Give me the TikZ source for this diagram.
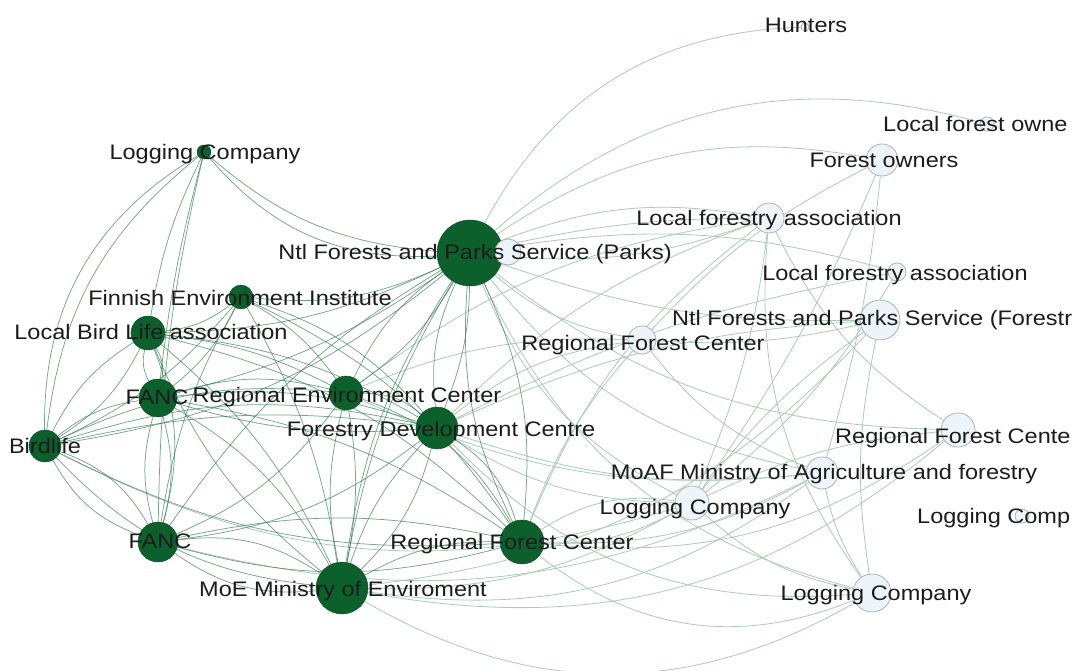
\documentclass[tikz,border=0pt]{standalone}
\usepackage{fontspec}
\setmainfont[FakeStretch=1.12]{Liberation Sans}
\usetikzlibrary{backgrounds}
\definecolor{gnode}{RGB}{12,96,44}
\definecolor{gedge}{RGB}{60,128,88}
\definecolor{ledge}{RGB}{172,202,186}
\definecolor{lnode}{RGB}{238,245,250}
\definecolor{lborder}{RGB}{170,180,182}
\definecolor{txt}{RGB}{28,28,28}
\begin{document}
\begin{tikzpicture}[x=1pt,y=-1pt,
  gn/.style={circle,fill=gnode,draw=gnode!80!black,line width=0.4pt,inner sep=0pt,minimum size=#1},
  ln/.style={circle,fill=lnode,draw=lborder,line width=0.8pt,inner sep=0pt,minimum size=#1},
  ge/.style={draw=gedge,line width=0.75pt,opacity=0.7},
  le/.style={draw=ledge,line width=0.8pt},
  lab/.style={text=txt,inner sep=0pt,font=\fontsize{21}{21}\selectfont,text height=15pt,text depth=0pt}]
\clip (0,0) rectangle (1077,671);
% green nodes
\node[gn=14pt] (lc)  at (204,152) {};
\node[gn=66pt] (pk)  at (470,253) {};
\node[gn=24pt] (fei) at (241,297) {};
\node[gn=34pt] (lbl) at (148,333) {};
\node[gn=38pt] (fa1) at (158,398) {};
\node[gn=34pt] (rec) at (346,393) {};
\node[gn=42pt] (fdc) at (437,428) {};
\node[gn=32pt] (bl)  at (45,446) {};
\node[gn=40pt] (fa2) at (158,542) {};
\node[gn=44pt] (rfg) at (522,542) {};
\node[gn=52pt] (moe) at (342,588) {};
% light nodes
\node[ln=8pt]  (hu)   at (805,27) {};
\node[ln=14pt] (lfo)  at (987,124) {};
\node[ln=32pt] (fo)   at (882,160) {};
\node[ln=30pt] (lfa1) at (769,218) {};
\node[ln=26pt] (pk2)  at (508,252) {};
\node[ln=18pt] (lfa2) at (897,272) {};
\node[ln=40pt] (nfp)  at (880,320) {};
\node[ln=28pt] (rfl)  at (642,340) {};
\node[ln=34pt] (rfr)  at (958,430) {};
\node[ln=32pt] (moaf) at (822,473) {};
\node[ln=34pt] (lcm)  at (692,503) {};
\node[ln=14pt] (lcr)  at (1022,516) {};
\node[ln=38pt] (lcb)  at (872,593) {};
% edges behind nodes
\begin{pgfonlayer}{background}
\fill[white] (0,0) rectangle (1077,671);
% light edges
\foreach \a/\b/\c in {pk/hu/30, pk/lfo/28, pk/fo/22, pk/lfa1/15, pk/lfa1/-12, pk/lfa1/6, pk/lfa2/12, pk/nfp/-10, pk/rfl/-15,
   pk/rfr/-18, pk/moaf/-20, pk/lcm/-20, pk/lcb/-25,
   moe/lcb/-30, moe/lcm/-15, moe/moaf/-22, moe/rfr/-25, moe/nfp/-20,
   rfg/lcm/-15, rfg/lcm/20, rfg/lcb/-30, rfg/moaf/-15, rfg/rfr/-20, rfg/lfa1/15, rfg/rfl/10,
   fdc/rfl/15, fdc/lfa1/12, fdc/nfp/10, fdc/moaf/-12, fdc/lcm/-15, fdc/lcb/-25, fdc/lfa2/8,
   rec/rfl/12, rec/lfa1/14, rec/moaf/-15, fa2/moaf/-20, bl/lcm/-22,
   fo/moaf/5, fo/rfl/-10, lfa1/rfr/-15, nfp/lcb/-10, nfp/rfl/8, lfa2/lcm/10, rfr/lcm/-10,
   moaf/lcb/-10, lfa1/lcm/8, fo/lcm/6, nfp/lcm/-8, lfa1/lcb/-20, rfl/moaf/-15, lcm/lcb/-15}
  {\draw[le] (\a) to[bend left=\c] (\b);}
% green edges
\foreach \a/\b/\c in {lc/pk/-18, lc/pk/-26, lc/lbl/-8, lc/fa1/-4, lc/fa2/-6, lc/bl/-22,
   pk/fei/15, pk/lbl/12, pk/fa1/10, pk/rec/12, pk/fdc/10, pk/bl/15, pk/fa2/-12, pk/rfg/15, pk/moe/-10,
   fei/lbl/15, fei/fa1/12, fei/rec/12, fei/fdc/15, fei/bl/12, fei/fa2/-10, fei/rfg/15, fei/moe/10,
   lbl/fa1/20, lbl/rec/10, lbl/fdc/12, lbl/bl/-15, lbl/fa2/18, lbl/rfg/15, lbl/moe/12,
   fa1/rec/15, fa1/fdc/12, fa1/bl/-15, fa1/fa2/15, fa1/rfg/12, fa1/moe/15,
   rec/fdc/20, rec/bl/-15, rec/fa2/15, rec/rfg/20, rec/moe/10,
   fdc/bl/-15, fdc/fa2/15, fdc/rfg/20, fdc/moe/15,
   bl/fa2/-20, bl/rfg/-15, bl/moe/-20, fa2/rfg/-15, fa2/moe/-20, rfg/moe/-15,
   fa2/bl/-20, moe/fa2/-20, fdc/pk/15, rfg/pk/15, moe/pk/12, fa1/lbl/20, fa2/fa1/15,
   bl/lbl/-15, moe/rec/12, fdc/moe/-12, pk/rec/-14, fa1/fdc/-10, lbl/moe/-14, rfg/fa2/-12, bl/fdc/10, lc/bl/-30}
  {\draw[ge] (\a) to[bend left=\c] (\b);}
\end{pgfonlayer}
% labels
\node[lab] at (205,152) {Logging Company};
\node[lab] at (475,252) {Ntl Forests and Parks Service (Parks)};
\node[lab] at (240,298) {Finnish Environment Institute};
\node[lab] at (151,332) {Local Bird Life association};
\node[lab] at (157,397) {FANC};
\node[lab] at (347,395) {Regional Environment Center};
\node[lab] at (441,429) {Forestry Development Centre};
\node[lab] at (45,446) {Birdlife};
\node[lab] at (160,541) {FANC};
\node[lab] at (512,542) {Regional Forest Center};
\node[lab] at (343,589) {MoE Ministry of Enviroment};
\node[lab] at (806,25) {Hunters};
\node[lab,anchor=west] at (883,124) {Local forest owne};
\node[lab] at (884,160) {Forest owners};
\node[lab] at (769,218) {Local forestry association};
\node[lab] at (895,273) {Local forestry association};
\node[lab,anchor=west] at (672,318) {Ntl Forests and Parks Service (Forestr};
\node[lab] at (643,343) {Regional Forest Center};
\node[lab,anchor=west] at (835,436) {Regional Forest Cente};
\node[lab] at (824,472) {MoAF Ministry of Agriculture and forestry};
\node[lab] at (695,507) {Logging Company};
\node[lab,anchor=west] at (917,516) {Logging Comp};
\node[lab] at (876,593) {Logging Company};
\end{tikzpicture}
\end{document}
